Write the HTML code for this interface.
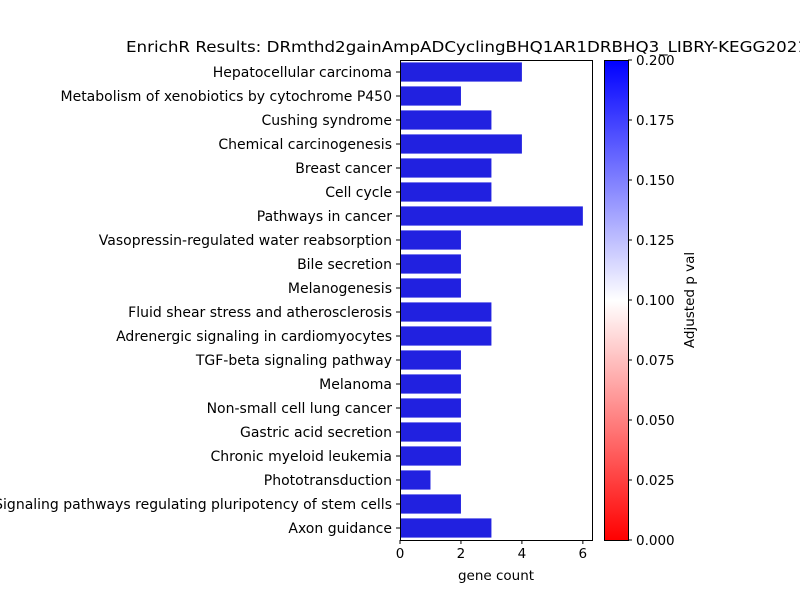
<!DOCTYPE html>
<html><head><meta charset="utf-8"><style>
body{margin:0;background:#fff;font-family:"Liberation Sans","DejaVu Sans",sans-serif;}
text{font-family:"DejaVu Sans","Liberation Sans",sans-serif;}
</style></head><body>
<svg id="chart" width="800" height="600" xmlns="http://www.w3.org/2000/svg">
<defs><linearGradient id="cb" x1="0" y1="1" x2="0" y2="0">
<stop offset="0" stop-color="#ff0000"/><stop offset="0.5" stop-color="#ffffff"/><stop offset="1" stop-color="#0000ff"/></linearGradient></defs>
<text x="126" y="52" font-size="15" textLength="682" lengthAdjust="spacingAndGlyphs">EnrichR Results: DRmthd2gainAmpADCyclingBHQ1AR1DRBHQ3_LIBRY-KEGG2021</text>
<g id="plot"></g>
<rect x="604.5" y="60.5" width="24" height="480" fill="url(#cb)" stroke="#000" stroke-width="1"/>
<g id="cbticks"></g>
<text transform="translate(694,300) rotate(-90)" text-anchor="middle" font-size="13.5">Adjusted p val</text>
<text x="496" y="580" text-anchor="middle" font-size="13.5">gene count</text>
</svg>
<script>
const categories=["Hepatocellular carcinoma","Metabolism of xenobiotics by cytochrome P450","Cushing syndrome","Chemical carcinogenesis","Breast cancer","Cell cycle","Pathways in cancer","Vasopressin-regulated water reabsorption","Bile secretion","Melanogenesis","Fluid shear stress and atherosclerosis","Adrenergic signaling in cardiomyocytes","TGF-beta signaling pathway","Melanoma","Non-small cell lung cancer","Gastric acid secretion","Chronic myeloid leukemia","Phototransduction","Signaling pathways regulating pluripotency of stem cells","Axon guidance"];
const counts=[4,2,3,4,3,3,6,2,2,2,3,3,2,2,2,2,2,1,2,3];
const xTicks=[0,2,4,6];
const cbTicks=["0.000","0.025","0.050","0.075","0.100","0.125","0.150","0.175","0.200"];
const NS="http://www.w3.org/2000/svg";
const L=400,R=592,T=60,B=540,xMax=6.3;
const x=v=>L+(v/xMax)*(R-L);
const band=(B-T)/categories.length;
const y=i=>T+band*i;
const g=document.getElementById('plot');
function mk(t,a,p){const e=document.createElementNS(NS,t);for(const k in a)e.setAttribute(k,a[k]);(p||g).appendChild(e);return e;}
categories.forEach((c,i)=>{
 const r=mk('rect',{x:L,y:y(i)+band*0.1,width:x(counts[i])-L,height:band*0.8,fill:'#2121e0'});
 
 
 const cy=y(i)+band/2;
 mk('line',{x1:L-4,x2:L,y1:cy,y2:cy,stroke:'#000'});
 const t=mk('text',{x:L-8,y:cy+5,'text-anchor':'end','font-size':'14'});
 t.textContent=c;
 
 
});
xTicks.forEach(v=>{
 mk('line',{x1:x(v),x2:x(v),y1:B,y2:B+4,stroke:'#000'});
 const t=mk('text',{x:x(v),y:B+18,'text-anchor':'middle','font-size':'13.5'});
 t.textContent=v;
 
 
});
const ax=mk('rect',{x:L+0.5,y:T+0.5,width:R-L,height:B-T,fill:'none',stroke:'#000'});


const cg=document.getElementById('cbticks');
cbTicks.forEach((v,i)=>{
 const yy=540-i*(480/(cbTicks.length-1));
 mk('line',{x1:628,x2:632,y1:yy,y2:yy,stroke:'#000'},cg);
 const t=mk('text',{x:636,y:yy+5,'font-size':'13.5'},cg);
 t.textContent=v;
 
 
});
</script>
</body></html>
